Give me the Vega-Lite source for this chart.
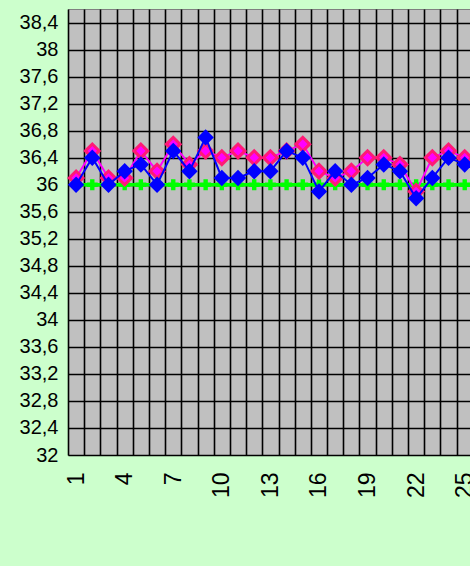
{
  "$schema": "https://vega.github.io/schema/vega-lite/v6.json",
  "width": 402,
  "height": 446,
  "autosize": {"type": "none"},
  "padding": {"left": 68, "top": 9, "right": 0, "bottom": 111},
  "background": "#CCFFCC",
  "config": {"view": {"fill": "#C0C0C0", "stroke": "#808080", "strokeWidth": 1}},
  "data": {"values": [
    {"day": 1, "s": "p", "v": 36.1}, {"day": 2, "s": "p", "v": 36.5}, {"day": 3, "s": "p", "v": 36.1}, {"day": 4, "s": "p", "v": 36.1}, {"day": 5, "s": "p", "v": 36.5},
    {"day": 6, "s": "p", "v": 36.2}, {"day": 7, "s": "p", "v": 36.6}, {"day": 8, "s": "p", "v": 36.3}, {"day": 9, "s": "p", "v": 36.5}, {"day": 10, "s": "p", "v": 36.4},
    {"day": 11, "s": "p", "v": 36.5}, {"day": 12, "s": "p", "v": 36.4}, {"day": 13, "s": "p", "v": 36.4}, {"day": 14, "s": "p", "v": 36.5}, {"day": 15, "s": "p", "v": 36.6},
    {"day": 16, "s": "p", "v": 36.2}, {"day": 17, "s": "p", "v": 36.1}, {"day": 18, "s": "p", "v": 36.2}, {"day": 19, "s": "p", "v": 36.4}, {"day": 20, "s": "p", "v": 36.4},
    {"day": 21, "s": "p", "v": 36.3}, {"day": 22, "s": "p", "v": 35.9}, {"day": 23, "s": "p", "v": 36.4}, {"day": 24, "s": "p", "v": 36.5}, {"day": 25, "s": "p", "v": 36.4},
    {"day": 1, "s": "b", "v": 36.0}, {"day": 2, "s": "b", "v": 36.4}, {"day": 3, "s": "b", "v": 36.0}, {"day": 4, "s": "b", "v": 36.2}, {"day": 5, "s": "b", "v": 36.3},
    {"day": 6, "s": "b", "v": 36.0}, {"day": 7, "s": "b", "v": 36.5}, {"day": 8, "s": "b", "v": 36.2}, {"day": 9, "s": "b", "v": 36.7}, {"day": 10, "s": "b", "v": 36.1},
    {"day": 11, "s": "b", "v": 36.1}, {"day": 12, "s": "b", "v": 36.2}, {"day": 13, "s": "b", "v": 36.2}, {"day": 14, "s": "b", "v": 36.5}, {"day": 15, "s": "b", "v": 36.4},
    {"day": 16, "s": "b", "v": 35.9}, {"day": 17, "s": "b", "v": 36.2}, {"day": 18, "s": "b", "v": 36.0}, {"day": 19, "s": "b", "v": 36.1}, {"day": 20, "s": "b", "v": 36.3},
    {"day": 21, "s": "b", "v": 36.2}, {"day": 22, "s": "b", "v": 35.8}, {"day": 23, "s": "b", "v": 36.1}, {"day": 24, "s": "b", "v": 36.4}, {"day": 25, "s": "b", "v": 36.3},
    {"day": 1, "s": "g", "v": 36.0}, {"day": 2, "s": "g", "v": 36.0}, {"day": 3, "s": "g", "v": 36.0}, {"day": 4, "s": "g", "v": 36.0}, {"day": 5, "s": "g", "v": 36.0},
    {"day": 6, "s": "g", "v": 36.0}, {"day": 7, "s": "g", "v": 36.0}, {"day": 8, "s": "g", "v": 36.0}, {"day": 9, "s": "g", "v": 36.0}, {"day": 10, "s": "g", "v": 36.0},
    {"day": 11, "s": "g", "v": 36.0}, {"day": 12, "s": "g", "v": 36.0}, {"day": 13, "s": "g", "v": 36.0}, {"day": 14, "s": "g", "v": 36.0}, {"day": 15, "s": "g", "v": 36.0},
    {"day": 16, "s": "g", "v": 36.0}, {"day": 17, "s": "g", "v": 36.0}, {"day": 18, "s": "g", "v": 36.0}, {"day": 19, "s": "g", "v": 36.0}, {"day": 20, "s": "g", "v": 36.0},
    {"day": 21, "s": "g", "v": 36.0}, {"day": 22, "s": "g", "v": 36.0}, {"day": 23, "s": "g", "v": 36.0}, {"day": 24, "s": "g", "v": 36.0}, {"day": 25, "s": "g", "v": 36.0},
    {"day": 26, "s": "g", "v": 36.0}
  ]},
  "encoding": {
    "x": {
      "field": "day", "type": "ordinal",
      "scale": {"range": [0, 421], "paddingInner": 0, "paddingOuter": 0},
      "axis": {
        "title": null, "tickBand": "extent", "grid": true, "gridColor": "#000000", "gridWidth": 1.6,
        "ticks": false, "domain": false, "labelAngle": 270, "labelOverlap": false,
        "labelExpr": "(toNumber(datum.value) - 1) % 3 == 0 ? datum.label : ''",
        "labelFont": "Liberation Sans", "labelFontSize": 23, "labelColor": "#000000", "labelPadding": 17
      }
    },
    "y": {
      "field": "v", "type": "quantitative",
      "scale": {"domain": [32, 38.6], "nice": false, "zero": false},
      "axis": {
        "title": null, "values": [32, 32.4, 32.8, 33.2, 33.6, 34, 34.4, 34.8, 35.2, 35.6, 36, 36.4, 36.8, 37.2, 37.6, 38, 38.4],
        "labelExpr": "replace(format(datum.value, '.1~f'), '.', ',')",
        "grid": true, "gridColor": "#000000", "gridWidth": 1.6, "ticks": false, "domain": false,
        "labelFont": "Liberation Sans", "labelFontSize": 20, "labelColor": "#000000", "labelPadding": 10
      }
    }
  },
  "layer": [
    {"transform": [{"filter": "datum.s == 'g'"}], "mark": {"type": "line", "color": "#00FF00", "strokeWidth": 3.5}},
    {"transform": [{"filter": "datum.s == 'g'"}], "mark": {"type": "point", "shape": "cross", "filled": true, "color": "#00FF00", "size": 120, "opacity": 1}},
    {"transform": [{"filter": "datum.s == 'p'"}], "mark": {"type": "line", "color": "#FF00FF", "strokeWidth": 2}},
    {"transform": [{"filter": "datum.s == 'p'"}], "mark": {"type": "point", "shape": "diamond", "filled": true, "fill": "#FF00FF", "stroke": "#FF1A75", "strokeWidth": 3, "size": 190, "opacity": 1}},
    {"transform": [{"filter": "datum.s == 'b'"}], "mark": {"type": "line", "color": "#0000FF", "strokeWidth": 2}},
    {"transform": [{"filter": "datum.s == 'b'"}], "mark": {"type": "point", "shape": "diamond", "filled": true, "color": "#0000FF", "size": 270, "opacity": 1}}
  ]
}
